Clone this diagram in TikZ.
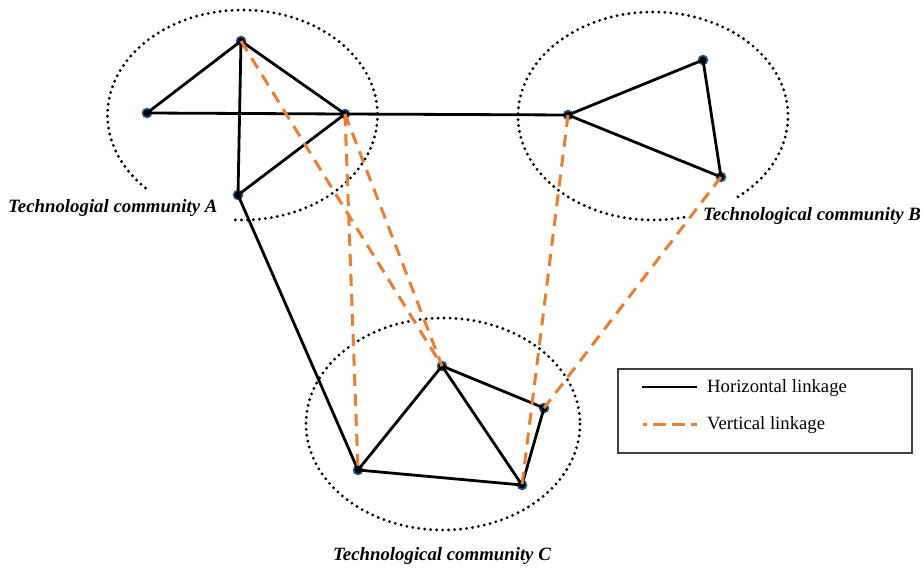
\documentclass[tikz,border=0pt]{standalone}
\usepackage{fontspec}
\setmainfont{Liberation Serif}
\definecolor{vorange}{RGB}{237,125,49}
\definecolor{nodeblue}{RGB}{40,90,150}
\begin{document}
\begin{tikzpicture}[x=1pt,y=-1pt,
  vert/.style={circle,fill=black,draw=nodeblue,line width=1.5pt,inner sep=0pt,minimum size=9pt},
  hlink/.style={black,line width=2.8pt},
  vlink/.style={vorange,line width=3pt,dash pattern=on 12pt off 8pt},
  community/.style={black,line width=3.2pt,line cap=round,dash pattern=on 0pt off 6pt},
  clabel/.style={font=\fontsize{18.8}{22}\selectfont\bfseries\itshape,inner sep=0pt,anchor=base west},
  leglabel/.style={font=\fontsize{18.7}{22}\selectfont,inner sep=0pt,anchor=base west},
  legbox/.style={draw=black!75,line width=1.4pt}]
\useasboundingbox (0,0) rectangle (923,569);

% community ellipses
\draw[community] (242.5,115) ++(-93:135 and -105) arc[start angle=-93,end angle=225,x radius=135,y radius=-105];
\draw[community] (653,116) ++(-51:135 and -104) arc[start angle=-51,end angle=284,x radius=135,y radius=-104];
\draw[community] (443,424) ellipse[x radius=137,y radius=106];

% vertices
\node[vert] (a1) at (241,41) {};
\node[vert] (a2) at (147,113) {};
\node[vert] (a3) at (345,114) {};
\node[vert] (a4) at (238,195) {};
\node[vert] (b1) at (568,115) {};
\node[vert] (b2) at (703,60) {};
\node[vert] (b3) at (721,177) {};
\node[vert] (c1) at (358,470) {};
\node[vert] (c2) at (442,366) {};
\node[vert] (c3) at (544,408) {};
\node[vert] (c4) at (522,485) {};

% horizontal linkages
\draw[hlink] (a1.center) -- (a2.center) -- (a3.center) -- (a1.center) -- (a4.center) -- (a3.center);
\draw[hlink] (a3.center) -- (b1.center);
\draw[hlink] (a4.center) -- (c1.center);
\draw[hlink] (b1.center) -- (b2.center) -- (b3.center) -- (b1.center);
\draw[hlink] (c1.center) -- (c2.center) -- (c3.center) -- (c4.center) -- (c1.center);
\draw[hlink] (c2.center) -- (c4.center);

% vertical linkages
\draw[vlink] (a1.center) -- (c2.center);
\draw[vlink] (a3.center) -- (c2.center);
\draw[vlink] (a3.center) -- (c1.center);
\draw[vlink] (b1.center) -- (c4.center);
\draw[vlink] (b3.center) -- (c3.center);

% labels
\node[clabel] (la) at (8,213) {Technologial community A};
\node[clabel] (lb) at (703,221) {Technological community B};
\node[clabel] (lc) at (333,560) {Technological community C};

% legend
\node[legbox,minimum width=294pt,minimum height=84pt,inner sep=0pt] (leg) at (765,411) {};
\coordinate (h1) at (642,387);
\coordinate (h2) at (697,387);
\coordinate (v1) at (643,424);
\coordinate (v2) at (697,424);
\draw[hlink] (h1) -- (h2);
\draw[vorange,line width=3pt,dash pattern=on 13pt off 6pt,dash phase=9pt] (v1) -- (v2);
\node[leglabel] (lh) at (707,392) {Horizontal linkage};
\node[leglabel] (lv) at (707,429) {Vertical linkage};
\end{tikzpicture}
\end{document}
